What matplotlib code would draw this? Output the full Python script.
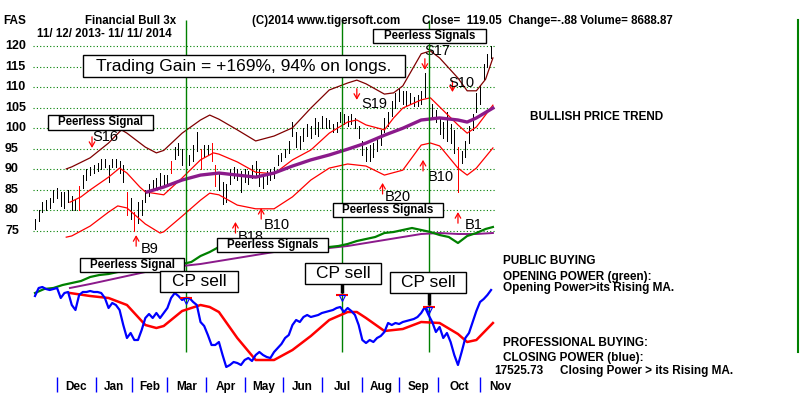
import matplotlib.pyplot as plt
import matplotlib.transforms as mtransforms
from matplotlib.patches import Rectangle
from matplotlib.lines import Line2D

plt.rcParams['font.family'] = ['Liberation Sans', 'DejaVu Sans']

W, H = 800, 395
PX_PER_DAY = 1.839
FIRST_PX = 35

# ---- price bars (every second trading day, 11/12/2013 - 11/11/2014)
BAR_DAYS = list(range(0, 250, 2))
BAR_HIGH = [78.0, 80.0, 82.0, 82.5, 83.0, 85.0, 85.5, 84.5, 84.5, 85.0,
            83.5, 82.5, 86.0, 88.5, 90.0, 90.5, 91.0, 91.5, 92.5, 92.5,
            91.0, 92.5, 92.5, 92.0, 91.0, 84.5, 83.0, 79.5, 82.0, 82.5,
            85.0, 86.5, 87.5, 88.0, 89.0, 88.5, 88.5, 92.0, 95.5, 96.5,
            95.0, 93.5, 93.5, 96.0, 99.0, 95.0, 96.0, 96.0, 96.5, 91.0,
            89.0, 87.0, 86.5, 90.0, 90.5, 90.0, 89.5, 90.0, 89.5, 91.0,
            92.0, 90.0, 88.5, 89.5, 90.0, 90.5, 93.5, 94.0, 95.0, 97.0,
            101.5, 99.0, 98.0, 100.0, 101.0, 100.5, 102.5, 101.5, 103.0, 102.5,
            102.0, 101.0, 101.5, 104.0, 103.5, 103.0, 103.5, 102.5, 100.5, 97.0,
            95.5, 96.0, 96.5, 97.5, 99.5, 102.5, 104.0, 106.5, 108.5, 109.5,
            109.0, 109.0, 108.5, 107.5, 108.0, 109.0, 113.5, 108.0, 106.0, 104.5,
            102.5, 101.5, 104.0, 101.0, 99.5, 95.5, 94.5, 97.0, 100.5, 103.5,
            108.5, 110.5, 115.5, 118.0, 120.0]
BAR_LOW = [75.5, 77.5, 79.5, 80.0, 80.5, 82.0, 83.0, 81.0, 80.5, 82.0,
           80.0, 80.0, 80.0, 85.5, 87.5, 88.5, 89.0, 89.5, 90.0, 90.5,
           87.0, 90.5, 90.5, 89.0, 87.0, 79.0, 78.0, 75.0, 77.0, 79.0,
           82.0, 83.5, 85.0, 85.5, 86.0, 86.5, 86.0, 89.0, 92.5, 93.5,
           91.0, 89.0, 91.0, 92.0, 94.5, 90.0, 93.0, 93.5, 92.0, 86.0,
           85.0, 81.5, 82.0, 86.5, 88.0, 87.5, 84.5, 87.0, 86.5, 88.0,
           88.5, 86.0, 85.5, 86.5, 87.5, 88.0, 91.0, 92.0, 93.0, 94.0,
           98.0, 95.5, 95.0, 97.0, 98.0, 97.5, 98.5, 98.0, 100.0, 100.0,
           100.0, 99.0, 99.0, 101.5, 101.0, 100.5, 101.0, 100.0, 97.5, 93.5,
           92.0, 92.0, 93.0, 94.5, 96.0, 99.0, 100.5, 103.0, 105.0, 106.5,
           106.0, 105.5, 106.0, 105.5, 105.5, 106.0, 107.5, 104.5, 102.5, 101.5,
           98.5, 97.5, 97.0, 96.5, 94.0, 84.5, 91.5, 93.0, 96.5, 99.5,
           104.0, 106.0, 112.0, 115.0, 117.0]
RED_BARS = [12, 25, 27, 37, 45, 48, 49, 115]

# ---- bands and moving average on price
UPPER_DAYS = [17, 20, 30, 40, 47, 50, 60, 66, 70, 80, 90, 95, 100, 110, 120, 130, 140,
              150, 160, 170, 175, 180, 190, 195, 200, 205, 210, 215, 220, 230, 235, 240, 245, 249]
UPPER = [90.1, 90.6, 92.8, 96.4, 99.6, 98.8, 95.4, 94.0, 94.6, 98.8, 102.0, 103.2, 102.2,
         99.6, 96.9, 98.1, 100.1, 104.9, 109.3, 111.0, 111.7, 110.8, 108.3, 108.6, 110.3,
         114.2, 118.1, 118.8, 117.1, 112.2, 109.1, 109.1, 111.9, 117.1]
MID_DAYS = [19, 25, 30, 40, 46, 50, 57, 60, 70, 80, 90, 97, 100, 110, 120, 130, 140, 150,
            160, 170, 175, 180, 190, 195, 200, 210, 215, 220, 230, 235, 240, 249]
MID = [82.0, 83.3, 85.0, 88.1, 90.3, 89.1, 85.7, 84.5, 83.8, 87.9, 92.3, 94.0, 93.7, 91.8,
       89.3, 88.9, 92.3, 94.7, 98.8, 101.5, 102.0, 100.8, 99.6, 102.5, 104.9, 106.9, 107.4,
       105.2, 100.8, 98.8, 100.3, 105.6]
LOWER_DAYS = [17, 20, 30, 40, 45, 50, 60, 68, 70, 80, 90, 95, 100, 110, 120, 130, 140, 150,
              160, 170, 180, 190, 200, 210, 215, 220, 230, 235, 240, 249]
LOWER = [73.5, 73.8, 76.2, 79.6, 81.1, 80.6, 76.7, 74.5, 74.8, 78.6, 82.5, 84.2, 83.8, 81.3,
         80.4, 80.4, 83.3, 87.4, 90.3, 91.3, 90.8, 88.6, 89.8, 95.9, 96.4, 95.7, 90.3, 88.6,
         90.3, 95.2]
MA_DAYS = [61, 70, 80, 90, 100, 110, 120, 130, 140, 150, 160, 170, 180, 190, 200, 210, 220,
           230, 235, 240, 249]
MA = [84.5, 85.7, 87.4, 88.6, 89.1, 88.6, 88.1, 89.1, 90.8, 92.3, 93.5, 94.9, 96.4, 98.3,
      100.0, 102.0, 102.5, 102.0, 101.5, 102.5, 104.9]

# ---- opening power (green) and its MA (purple), scaled units
OP_DAYS = list(range(0, 250, 5)) + [249]
OP = [77, 81, 82, 85, 87, 89, 93, 95, 96, 98, 99, 100, 101, 102, 103, 104, 106, 108, 114,
      118, 123, 124, 124, 125, 125, 125, 125, 124, 124, 123, 123, 123, 123, 124, 126, 129,
      131, 133, 137, 138, 140, 142, 140, 138, 135, 133, 127, 134, 137, 141, 143]
OPMA_DAYS = [19, 30, 40, 50, 60, 70, 80, 90, 100, 110, 120, 130, 140, 150, 160, 170, 180,
             190, 200, 210, 220, 230, 240, 249]
OPMA = [82, 86, 90, 94, 98, 101, 104, 106, 109, 112, 115, 118, 120, 121, 122, 124, 127, 130,
        133, 136, 137, 136, 136, 137]

# ---- closing power (blue) and its MA (red), scaled units
CP = [74, 82, 83, 81, 80, 81, 82, 72, 77, 78,
      65, 60, 75, 78, 78, 79, 78, 78, 77, 72,
      62, 67, 65, 60, 45, 32, 37, 30, 30, 40,
      52, 56, 52, 57, 52, 57, 62, 72, 77, 74,
      70, 72, 72, 68, 65, 48, 44, 35, 25, 25,
      28, 15, 3, 5, 8, 7, 5, 10, 12, 9,
      15, 18, 15, 13, 12, 18, 22, 26, 32, 35,
      45, 50, 48, 53, 55, 53, 54, 55, 57, 58,
      59, 60, 62, 63, 58, 62, 59, 55, 45, 30,
      27, 30, 28, 32, 34, 38, 47, 45, 47, 46,
      48, 49, 50, 51, 53, 57, 63, 55, 48, 38,
      43, 32, 37, 28, 15, 5, 18, 32, 37, 48,
      59, 68, 71, 75, 80]
CPMA_DAYS = [19, 30, 40, 50, 60, 66, 70, 80, 90, 95, 100, 110, 120, 130, 140, 150, 160, 170,
             175, 180, 190, 200, 210, 220, 230, 235, 240, 249]
CPMA = [77, 74, 72, 65, 45, 42, 44, 59, 65, 63, 58, 32, 10, 10, 20, 34, 50, 58, 58, 52, 39,
        41, 48, 47, 36, 28, 30, 47]
CP_SELL_DAYS = [82, 167, 214]
CP_SELL_VAL = [72, 75, 63]

# ---- Peerless signals
SIGNAL_NAMES = ["S16", "B9", "B18", "B10", "S19", "B20", "B10", "S17", "S10", "B1"]
SIGNAL_DAYS = [31, 55, 109, 123, 175, 189, 211, 212, 227, 230]
SIGNAL_TIP = [95.2, 74.0, 77.2, 80.6, 106.9, 86.7, 92.3, 114.2, 108.8, 79.6]
LABEL_OFFSETS = [(13, 0), (13.5, 3), (15.5, 3.5), (15.5, 6), (17.5, 15), (15, 3),
                 (17.5, 6), (12.5, -8), (8.5, 2), (15.5, 2)]

PRICE_TICKS = [75, 80, 85, 90, 95, 100, 105, 110, 115, 120]
MONTHS = ["Dec", "Jan", "Feb", "Mar", "Apr", "May", "Jun", "Jul", "Aug", "Sep", "Oct", "Nov"]
MONTH_START_DAYS = [12, 33, 53, 72, 93, 114, 135, 156, 178, 198, 219, 242]

GREEN = '#008000'
DARKRED = '#800000'
PURPLE = '#8b1a8b'


def fx(px):
    return px / W


def fy(py):
    return 1 - py / H


fig = plt.figure(figsize=(8, 3.95), dpi=100)
xlim = (-FIRST_PX / PX_PER_DAY, (W - FIRST_PX) / PX_PER_DAY)

# price axes: 120 at y=46px, 4.111 px per point
ax = fig.add_axes([0, 0, 1, 1])
ax.set_xlim(*xlim)
ax.set_ylim(120 - (H - 46) / 4.111, 120 + 46 / 4.111)
ax.axis('off')

# indicator axes: value = 370 - pixel y
ax2 = fig.add_axes([0, 0, 1, 1])
ax2.set_xlim(*xlim)
ax2.set_ylim(-25, 370)
ax2.axis('off')
ax2.patch.set_visible(False)

ax.hlines(PRICE_TICKS, -1.1, 250, colors=GREEN, linestyles=(0, (1, 2)), lw=0.8)
blend = mtransforms.blended_transform_factory(fig.transFigure, ax.transData)
for p in PRICE_TICKS:
    ax.text(fx(5), p, str(p), transform=blend, ha='left', va='center',
            fontsize=9, weight='bold')

ax2.vlines(CP_SELL_DAYS, 18, 350, colors=GREEN, lw=1)

bar_colors = ['red' if i in RED_BARS else 'black' for i in range(len(BAR_DAYS))]
ax.vlines(BAR_DAYS, BAR_LOW, BAR_HIGH, colors=bar_colors, lw=0.72, antialiased=False)

ax.plot(UPPER_DAYS, UPPER, color=DARKRED, lw=0.9)
ax.plot(MID_DAYS, MID, color='red', lw=0.9)
ax.plot(LOWER_DAYS, LOWER, color='red', lw=0.9)
ax.plot(MA_DAYS, MA, color=PURPLE, lw=2.4)

ax2.plot(OPMA_DAYS, OPMA, color=PURPLE, lw=1.4)
ax2.plot(OP_DAYS, OP, color=GREEN, lw=1.6)
ax2.plot(CPMA_DAYS, CPMA, color='red', lw=1.8)
ax2.plot(BAR_DAYS, CP, color='blue', lw=1.6)

ax2.plot(CP_SELL_DAYS, CP_SELL_VAL, ls='none', marker='_', ms=9, mew=1.5, color='red')
ax2.plot(CP_SELL_DAYS, [v - 3 for v in CP_SELL_VAL], ls='none', marker='v', ms=5,
         mfc='none', mec='blue', mew=0.8)
ax2.vlines(CP_SELL_DAYS[1:], [v + 2 for v in CP_SELL_VAL[1:]], [86, 77], colors='black', lw=2.5)

for name, d, tip, (dx, dy) in zip(SIGNAL_NAMES, SIGNAL_DAYS, SIGNAL_TIP, LABEL_OFFSETS):
    tail = tip + 2.7 if name.startswith('S') else tip - 2.7
    ax.annotate('', xy=(d, tip), xytext=(d, tail),
                arrowprops=dict(arrowstyle='->,head_length=0.35,head_width=0.2',
                                color='red', lw=0.9, shrinkA=0, shrinkB=0))
    ax.annotate(name, xy=(d, tail), xytext=(dx, -dy), textcoords='offset pixels',
                ha='center', va='center', fontsize=10.5)

ax2.vlines(MONTH_START_DAYS, -22, -7, colors='blue', lw=1)
mids = [(a + b) / 2 for a, b in zip(MONTH_START_DAYS[:-1], MONTH_START_DAYS[1:])]
mids.append(MONTH_START_DAYS[-1] + 11)
for m, x in zip(MONTHS, mids):
    ax2.text(x, -17, m, ha='center', va='center', fontsize=8.5, weight='bold')

fig.add_artist(Line2D([fx(798), fx(798)], [fy(20), fy(352)], color=GREEN, lw=1.5,
                      transform=fig.transFigure))


def box(x0, y0, x1, y1, text, size, weight='normal'):
    fig.add_artist(Rectangle((fx(x0), fy(y1)), (x1 - x0) / W, (y1 - y0) / H,
                             transform=fig.transFigure, fc='white', ec='black',
                             lw=1, zorder=5))
    fig.text(fx((x0 + x1) / 2), fy((y0 + y1) / 2), text, ha='center', va='center',
             fontsize=size, weight=weight, zorder=6)


def label(px, py, text, size=8.5):
    fig.text(fx(px), fy(py), text, ha='left', va='center', fontsize=size, weight='bold')


box(83, 55, 405, 77, "Trading Gain = +169%, 94% on longs.", 12.5)
box(373, 29, 486, 43, "Peerless Signals", 8.3, 'bold')
box(48, 115, 153, 130, "Peerless Signal", 8.3, 'bold')
box(333, 203, 443, 217, "Peerless Signals", 8.3, 'bold')
box(217, 238, 328, 252, "Peerless Signals", 8.3, 'bold')
box(80, 258, 184, 272, "Peerless Signal", 8.3, 'bold')
box(160, 271, 238, 292, "CP sell", 12.5)
box(305, 263, 381, 284, "CP sell", 12.5)
box(390, 272, 466, 293, "CP sell", 12.5)

label(3, 21, "FAS", 8.5)
label(85, 21, "Financial Bull 3x", 8.3)
label(37, 34, "11/ 12/ 2013- 11/ 11/ 2014", 8.3)
label(252, 21, "(C)2014 www.tigersoft.com", 8.3)
label(422, 21, "Close=  119.05  Change=-.88 Volume= 8688.87", 8.3)
label(530, 117, "BULLISH PRICE TREND", 8.5)
label(503, 261, "PUBLIC BUYING", 8.5)
label(503, 277, "OPENING POWER (green):", 8.5)
label(503, 288, "Opening Power>its Rising MA.", 8.5)
label(503, 343, "PROFESSIONAL BUYING:", 8.5)
label(503, 358, "CLOSING POWER (blue):", 8.5)
label(494, 371, "17525.73", 8.5)
label(560, 371, "Closing Power > its Rising MA.", 8.5)

fig.savefig('out.png', dpi=100)
